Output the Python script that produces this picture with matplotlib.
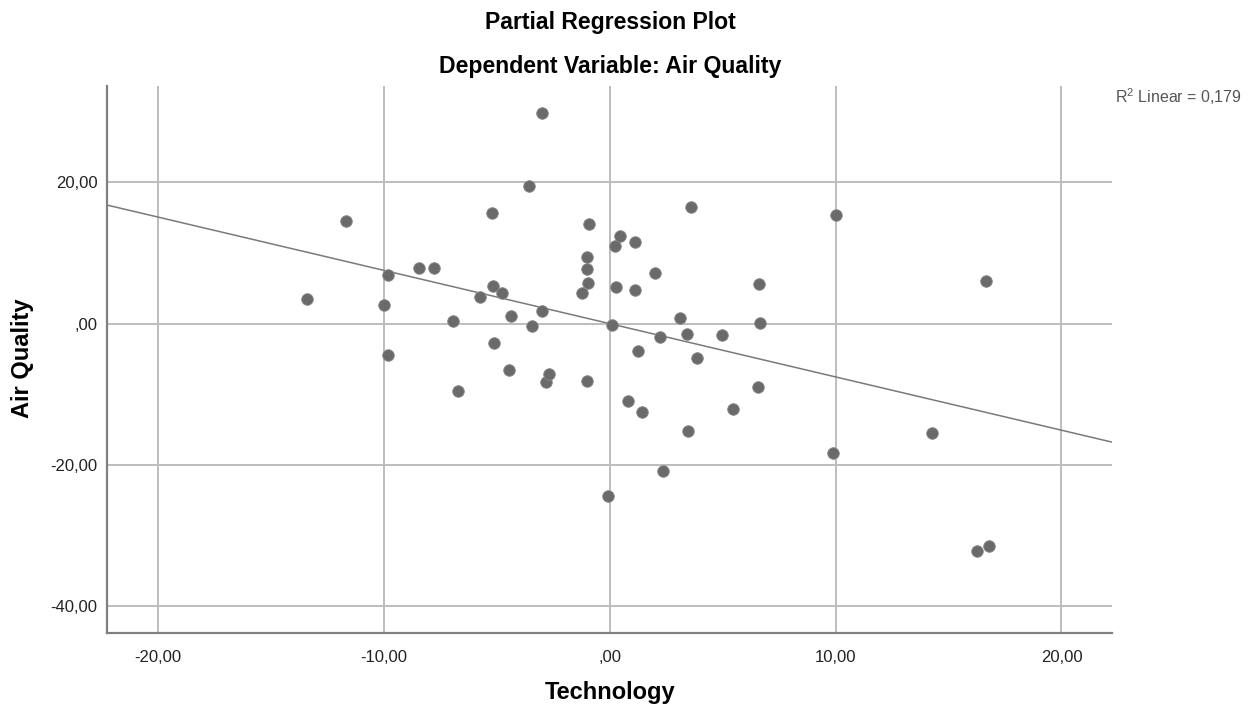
import matplotlib
matplotlib.use("Agg")
import matplotlib.pyplot as plt
import numpy as np

plt.rcParams['font.family'] = ['Liberation Sans', 'DejaVu Sans']
plt.rcParams['mathtext.fontset'] = 'custom'
plt.rcParams['mathtext.rm'] = 'Liberation Sans'
plt.rcParams['mathtext.it'] = 'Liberation Sans'

# Partial residuals
technology = [-13.41, -11.67, -10.00, -9.81, -9.80, -8.45, -7.79, -6.93, -6.71, -5.73,
              -5.22, -5.18, -5.11, -4.75, -4.46, -4.35, -3.58, -3.42, -3.01, -3.00,
              -2.82, -2.70, -1.24, -1.02, -1.02, -0.99, -0.95, -0.89, -0.09, 0.12,
              0.25, 0.29, 0.47, 0.82, 1.11, 1.12, 1.25, 1.42, 2.03, 2.23,
              2.37, 3.10, 3.43, 3.45, 3.61, 3.89, 4.96, 5.47, 6.55, 6.61,
              6.64, 9.89, 10.04, 14.26, 16.25, 16.67, 16.78]
air_quality = [3.44, 14.52, 2.64, 6.83, -4.49, 7.92, 7.87, 0.37, -9.48, 3.72,
               15.71, 5.28, -2.79, 4.38, -6.61, 1.08, 19.47, -0.28, 1.84, 29.86,
               -8.26, -7.08, 4.33, 9.38, 7.68, -8.17, 5.80, 14.10, -24.48, -0.14,
               10.98, 5.18, 12.40, -11.00, 11.55, 4.71, -3.82, -12.55, 7.16, -1.84,
               -20.94, 0.75, -1.51, -15.15, 16.55, -4.87, -1.66, -12.08, -8.92, 5.56,
               0.14, -18.31, 15.42, -15.49, -32.19, 6.10, -31.53]

fit_slope = -0.755
fit_intercept = 0.0
r2_label = "0,179"

x_ticks = [-20, -10, 0, 10, 20]
x_tick_labels = ["-20,00", "-10,00", ",00", "10,00", "20,00"]
y_ticks = [-40, -20, 0, 20]
y_tick_labels = ["-40,00", "-20,00", ",00", "20,00"]

W, H = 1257, 713
fig = plt.figure(figsize=(W / 100, H / 100), dpi=100)
ax = fig.add_axes([0.0854, 0.1118, 0.7995, 0.767])

xlim = (-22.23, 22.25)
ylim = (-43.87, 33.6)
ax.set_xlim(*xlim)
ax.set_ylim(*ylim)

grid_c = '#bdbdbd'
for xv in x_ticks:
    ax.axvline(xv, color=grid_c, lw=1.4, zorder=1)
for yv in y_ticks:
    ax.axhline(yv, color=grid_c, lw=1.4, zorder=1)

xs = np.array(xlim)
ax.plot(xs, fit_intercept + fit_slope * xs, color='#7a7a7a', lw=1.1, zorder=2)

ax.scatter(technology, air_quality, s=70, color='#6a6a6a', edgecolors='#8a8a8a',
           linewidths=0.6, zorder=3)

ax.set_xticks(x_ticks)
ax.set_xticklabels(x_tick_labels)
ax.set_yticks(y_ticks)
ax.set_yticklabels(y_tick_labels)
ax.tick_params(length=0, labelsize=12, labelcolor='#222222')
ax.tick_params(axis='x', pad=12)
ax.tick_params(axis='y', pad=7)

for s in ['top', 'right']:
    ax.spines[s].set_visible(False)
for s in ['left', 'bottom']:
    ax.spines[s].set_color('#808080')
    ax.spines[s].set_linewidth(1.6)

fig.text(610 / W, 1 - 692 / H, "Technology", ha='center', va='center',
         fontsize=17, fontweight='bold')
fig.text(22 / W, 1 - 358 / H, "Air Quality", ha='center', va='center', rotation=90,
         fontsize=17, fontweight='bold')

fig.text(610 / W, 1 - 23 / H, "Partial Regression Plot", ha='center', va='center',
         fontsize=16.6, fontweight='bold')
fig.text(610 / W, 1 - 66 / H, "Dependent Variable: Air Quality", ha='center', va='center',
         fontsize=16.6, fontweight='bold')

fig.text(1115 / W, 1 - 97 / H, r"R$^2$ Linear = " + r2_label, ha='left', va='center',
         fontsize=11.5, color='#555555')

fig.savefig("out.png", dpi=100, facecolor='white')
